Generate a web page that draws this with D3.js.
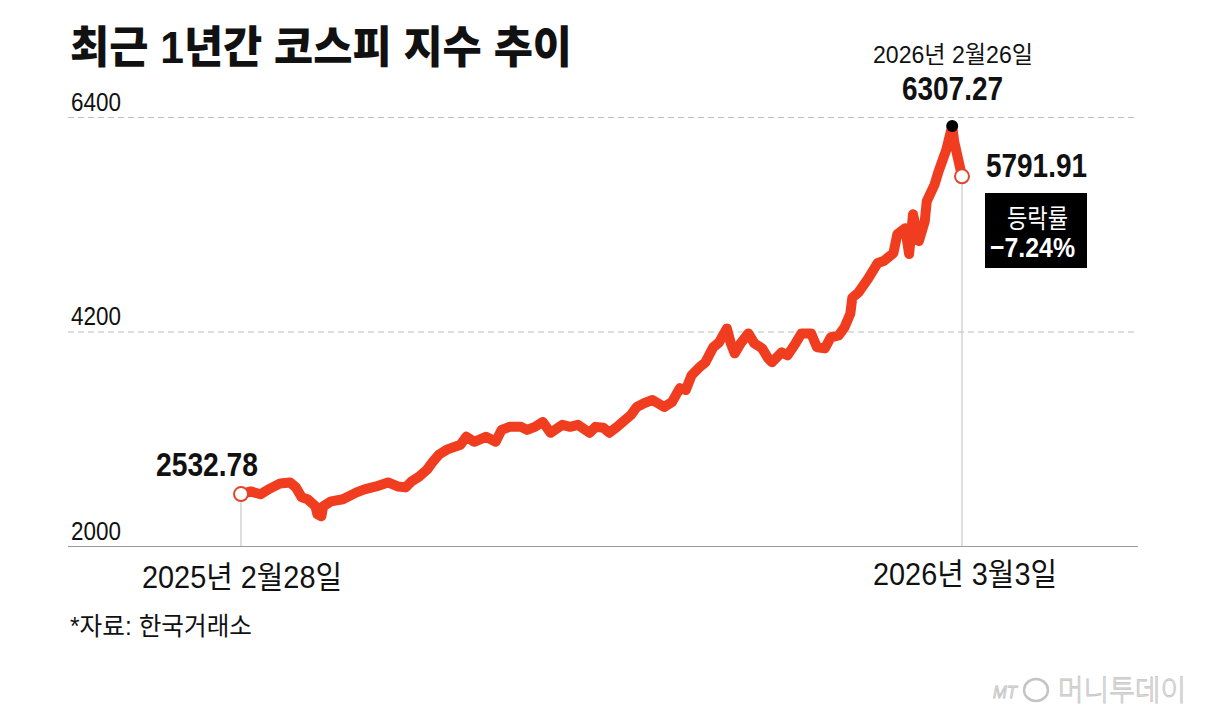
<!DOCTYPE html>
<html lang="ko">
<head>
<meta charset="utf-8">
<script src="https://cdn.jsdelivr.net/npm/d3@7"></script>
<style>
  html, body { margin: 0; padding: 0; background: #fff; }
  svg text { font-family: "Liberation Sans", "Noto Sans CJK KR", sans-serif; }
</style>
</head>
<body>
<svg id="chart" width="1206" height="726"></svg>
<script>
const dates = [
  "2025-02-28","2025-03-05","2025-03-10","2025-03-14","2025-03-20","2025-03-25","2025-03-28","2025-03-31",
  "2025-04-03","2025-04-07","2025-04-08","2025-04-10","2025-04-11","2025-04-15","2025-04-21","2025-04-28",
  "2025-05-02","2025-05-08","2025-05-14","2025-05-19","2025-05-23","2025-05-26","2025-05-30","2025-06-03",
  "2025-06-06","2025-06-09","2025-06-13","2025-06-20","2025-06-23","2025-06-27","2025-07-03","2025-07-08",
  "2025-07-11","2025-07-15","2025-07-21","2025-07-24","2025-07-28","2025-08-01","2025-08-05","2025-08-11",
  "2025-08-15","2025-08-19","2025-08-25","2025-08-28","2025-09-01","2025-09-04","2025-09-08","2025-09-12",
  "2025-09-15","2025-09-18","2025-09-22","2025-09-26","2025-10-02","2025-10-06","2025-10-10","2025-10-13",
  "2025-10-16","2025-10-20","2025-10-23","2025-10-27","2025-10-30","2025-11-03","2025-11-05","2025-11-07",
  "2025-11-10","2025-11-14","2025-11-17","2025-11-21","2025-11-24","2025-11-26","2025-12-01","2025-12-04",
  "2025-12-08","2025-12-11","2025-12-16","2025-12-19","2025-12-23","2025-12-26","2025-12-30","2026-01-02",
  "2026-01-05","2026-01-06","2026-01-09","2026-01-14","2026-01-19","2026-01-22","2026-01-27","2026-01-29",
  "2026-02-02","2026-02-04","2026-02-06","2026-02-09","2026-02-12","2026-02-13","2026-02-17","2026-02-19",
  "2026-02-23","2026-02-26","2026-02-27","2026-03-03"
];
const kospi = [
  2532.78,2560,2530,2581,2642,2652,2601,2499,
  2479,2407,2326,2306,2407,2458,2479,2550,
  2581,2611,2652,2611,2601,2662,2713,2784,
  2866,2937,2988,3039,3120,3069,3120,3069,
  3191,3222,3222,3191,3222,3273,3161,3243,
  3222,3243,3161,3222,3212,3161,3222,3293,
  3344,3426,3467,3497,3426,3477,3619,3599,
  3752,3833,3884,4037,4088,4231,4078,3976,
  4078,4180,4078,4027,3925,3884,3986,3956,
  4078,4180,4180,4037,4027,4139,4159,4241,
  4383,4546,4597,4740,4903,4923,5005,5198,
  5259,4994,5402,5127,5330,5534,5707,5840,
  6064,6307.27,6150,5791.91
];
const yTicks = [2000, 4200, 6400];

const startDate = "2025-02-28", startLabel = "2025년 2월28일", startValue = 2532.78;
const peakDate = "2026-02-26", peakLabel = "2026년 2월26일", peakValue = 6307.27;
const endDate = "2026-03-03", endLabel = "2026년 3월3일", endValue = 5791.91;
const changeLabel = "등락률", changeValue = "−7.24%";

const title = "최근 1년간 코스피 지수 추이";
const source = "*자료: 한국거래소";

const RED = "#f03c1f";
const parse = d3.timeParse("%Y-%m-%d");
const rows = dates.map((d, i) => ({ date: parse(d), v: kospi[i] }));

const svg = d3.select("#chart");
svg.append("rect").attr("width", 1206).attr("height", 726).attr("fill", "#fff");

const x = d3.scaleTime()
  .domain([parse(startDate), parse(endDate)])
  .range([241, 962]);

const y = d3.scaleLinear()
  .domain([2000, 6400])
  .range([546, 117]);

// gridlines + tick labels
const axis = svg.append("g")
  .attr("transform", "translate(68,0)")
  .call(d3.axisRight(y).tickValues(yTicks).tickSize(1070).tickFormat(d3.format("d")));
axis.select(".domain").remove();
axis.selectAll(".tick line")
  .attr("stroke", d => d === 2000 ? "#9a9a9a" : "#bdbdbd")
  .attr("stroke-width", d => d === 2000 ? 1.2 : 1)
  .attr("stroke-dasharray", d => d === 2000 ? null : "6,4");
axis.selectAll(".tick text")
  .attr("x", 3)
  .attr("dy", -7)
  .attr("text-anchor", "start")
  .attr("fill", "#111")
  .attr("font-size", 25)
  .attr("font-family", "Liberation Sans, sans-serif")
  .attr("textLength", 50)
  .attr("lengthAdjust", "spacingAndGlyphs")
  .attr("dominant-baseline", "auto");

// drop lines from start / end markers
[[startDate, startValue], [endDate, endValue]].forEach(([d, v]) => {
  svg.append("line")
    .attr("x1", x(parse(d))).attr("x2", x(parse(d)))
    .attr("y1", y(v)).attr("y2", y(2000))
    .attr("stroke", "#c8c8c8").attr("stroke-width", 1.2);
});

// main line
const line = d3.line()
  .x(d => x(d.date))
  .y(d => y(d.v));

svg.append("path")
  .datum(rows)
  .attr("d", line)
  .attr("fill", "none")
  .attr("stroke", RED)
  .attr("stroke-width", 10)
  .attr("stroke-linejoin", "round")
  .attr("stroke-linecap", "round");

// markers
svg.append("circle")
  .attr("cx", x(parse(peakDate))).attr("cy", y(peakValue)).attr("r", 6)
  .attr("fill", "#000");
[[startDate, startValue], [endDate, endValue]].forEach(([d, v]) => {
  svg.append("circle")
    .attr("cx", x(parse(d))).attr("cy", y(v)).attr("r", 7)
    .attr("fill", "#fff").attr("stroke", "#e2452c").attr("stroke-width", 2);
});

function label(txt, px, py, size, len, opts = {}) {
  return svg.append("text")
    .attr("x", px).attr("y", py)
    .attr("font-size", size)
    .attr("font-weight", opts.weight || "normal")
    .attr("fill", opts.fill || "#111")
    .attr("text-anchor", opts.anchor || "start")
    .attr("textLength", len)
    .attr("lengthAdjust", "spacingAndGlyphs")
    .text(txt);
}

// title
label(title, 70, 63, 44, 502, { weight: 900 }).attr("font-family", "Noto Sans CJK KR");

// value annotations
label(d3.format(".2f")(startValue), 156, 476, 33, 102, { weight: "bold" });
label(peakLabel, 873, 63, 24, 160);
label(d3.format(".2f")(peakValue), 902, 100, 33, 101, { weight: "bold" });
label(d3.format(".2f")(endValue), 986, 177, 33, 101, { weight: "bold" });

// change box
svg.append("rect")
  .attr("x", 985).attr("y", 193).attr("width", 102).attr("height", 75)
  .attr("fill", "#000");
label(changeLabel, 1007, 228, 26, 61, { fill: "#fff" });
label(changeValue, 990, 257, 28, 85, { fill: "#fff", weight: "bold" });

// date labels under axis
label(startLabel, 142, 588, 31, 200);
label(endLabel, 873, 585, 31, 184);

// source
label(source, 70, 635, 25, 182);

// logo
const logo = svg.append("g").attr("fill", "#e9e9e9").attr("stroke", "#c4c4c4").attr("stroke-width", 0.8);
logo.append("text").attr("x", 993).attr("y", 698).attr("font-size", 17)
  .attr("font-style", "italic").attr("font-family", "Liberation Serif, serif")
  .attr("textLength", 24).attr("lengthAdjust", "spacingAndGlyphs").text("MT");
logo.append("ellipse").attr("cx", 1036).attr("cy", 690).attr("rx", 12).attr("ry", 11)
  .attr("fill", "none").attr("stroke", "#c4c4c4").attr("stroke-width", 2.5);
logo.append("text").attr("x", 1058).attr("y", 701).attr("font-size", 29)
  .attr("font-family", "Noto Sans CJK KR").attr("font-weight", 300)
  .attr("textLength", 128).attr("lengthAdjust", "spacingAndGlyphs").text("머니투데이");
</script>
</body>
</html>
